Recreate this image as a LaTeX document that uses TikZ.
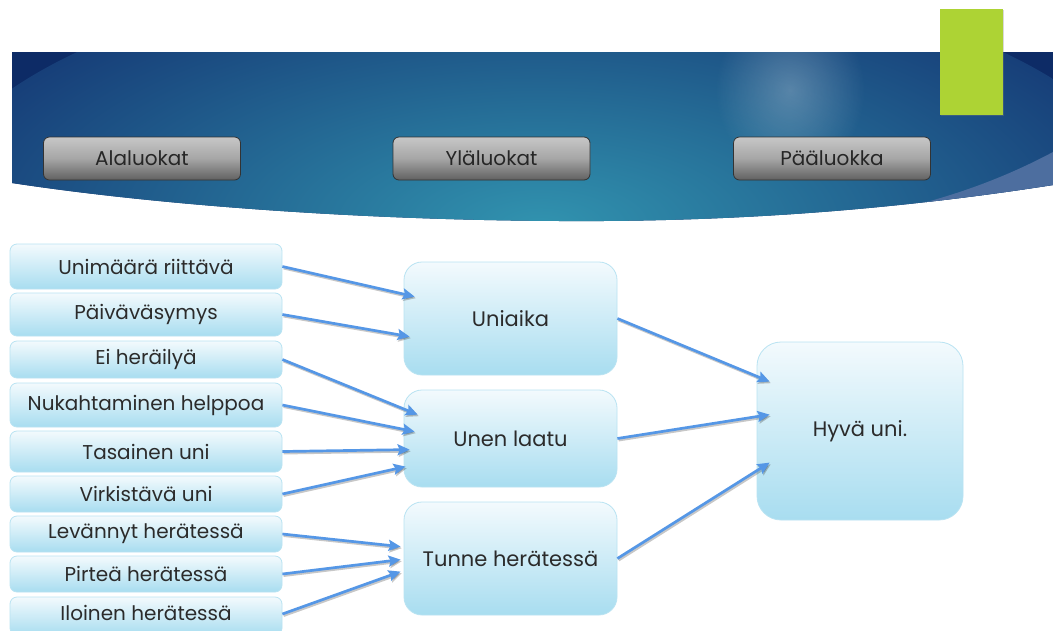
\documentclass[tikz,border=0pt]{standalone}
\usepackage{fontspec}
\setmainfont{Poppins}
\usetikzlibrary{calc,arrows.meta,fadings,shadows}
\definecolor{navyL}{HTML}{173F79}
\definecolor{navyR}{HTML}{0D2B66}
\definecolor{tealC}{HTML}{3193AF}
\definecolor{swoosh}{HTML}{4D6E9F}
\definecolor{greenbar}{HTML}{ADD334}
\definecolor{boxtop}{HTML}{F3FAFD}
\definecolor{boxbot}{HTML}{A8DDF0}
\definecolor{boxline}{HTML}{B9E3F2}
\definecolor{arrowc}{HTML}{5597E6}
\definecolor{txt}{HTML}{2B2B2B}
\tikzfading[name=softspot, inner color=transparent!75, outer color=transparent!100]
\tikzset{
  leafbox/.style={rectangle, rounded corners=7pt, draw=boxline, line width=0.8pt,
    top color=boxtop, bottom color=boxbot, minimum width=272pt, text=txt,
    font=\fontsize{20}{23}\selectfont, inner sep=0pt},
  midbox/.style={rectangle, rounded corners=18pt, draw=boxline, line width=0.8pt,
    top color=boxtop, bottom color=boxbot, minimum width=213pt, text=txt,
    font=\fontsize{21}{24}\selectfont, inner sep=0pt},
  topbox/.style={rectangle, rounded corners=24pt, draw=boxline, line width=0.8pt,
    top color=boxtop, bottom color=boxbot, minimum width=206pt, minimum height=178pt,
    text=txt, font=\fontsize{21}{24}\selectfont, inner sep=0pt},
  btn/.style={rectangle, rounded corners=6pt, draw=black!80, line width=0.8pt,
    top color=black!22, bottom color=black!62, middle color=black!35,
    minimum width=197pt, minimum height=43pt, text=black!85,
    font=\fontsize{20}{23}\selectfont, inner sep=0pt},
  conn/.style={draw=arrowc, line width=2.7pt, -{Stealth[length=12pt,width=11pt,inset=2pt]}},
  connshadow/.style={draw=black, opacity=0.22, line width=2.7pt, -{Stealth[length=12pt,width=11pt,inset=2pt]}}
}
\newcommand{\linkit}[2]{%
  \draw[connshadow] ($(#1)+(1.2,1.6)$) -- ($(#2)+(1.2,1.6)$);
  \draw[conn] (#1) -- (#2);}
\begin{document}
\begin{tikzpicture}[x=1pt,y=-1pt]
\clip (0,0) rectangle (1053,630);
\fill[white] (0,0) rectangle (1053,630);
% banner
\begin{scope}
  \clip (12,52) -- (1053,52) -- (1053,185)
     .. controls (880,212) and (720,222) .. (560,221)
     .. controls (350,220) and (150,204) .. (12,183) -- cycle;
  \fill[navyR] (0,40) rectangle (1053,230);
  \shade[inner color=tealC, outer color=navyL] (540,225) ellipse (620 and 260);
  \fill[white, path fading=softspot] (790,90) ellipse (75 and 85);
  \fill[swoosh] (870,215) .. controls (950,200) and (1010,175) .. (1053,152)
     -- (1053,240) -- (860,240) -- cycle;
\end{scope}
\fill[greenbar, drop shadow={opacity=0.3, shadow xshift=1pt, shadow yshift=-1pt}] (940,9) rectangle (1003,115);
% buttons
\node[btn] (b1) at (142,158.5) {Alaluokat};
\node[btn] (b2) at (491.5,158.5) {Yläluokat};
\node[btn] (b3) at (832,158.5) {Pääluokka};
% leaf boxes
\node[leafbox, minimum height=45pt] (l1) at (146,266.5) {Unimäärä riittävä};
\node[leafbox, minimum height=43pt] (l2) at (146,314.5) {Päiväväsymys};
\node[leafbox, minimum height=37pt] (l3) at (146,359.5) {Ei heräilyä};
\node[leafbox, minimum height=44pt] (l4) at (146,405) {Nukahtaminen helppoa};
\node[leafbox, minimum height=41pt] (l5) at (146,451.5) {Tasainen uni};
\node[leafbox, minimum height=36pt] (l6) at (146,494) {Virkistävä uni};
\node[leafbox, minimum height=36pt] (l7) at (146,534) {Levännyt herätessä};
\node[leafbox, minimum height=36pt] (l8) at (146,574) {Pirteä herätessä};
\node[leafbox, minimum height=38pt] (l9) at (146,616) {};
\node[text=txt, font=\fontsize{20}{23}\selectfont, inner sep=0pt] (t9) at (146,613) {Iloinen herätessä};
% middle boxes
\node[midbox, minimum height=113pt] (m1) at (510.5,318.5) {Uniaika};
\node[midbox, minimum height=97pt] (m2) at (510.5,438.5) {Unen laatu};
\node[midbox, minimum height=113pt] (m3) at (510.5,558.5) {Tunne herätessä};
% top box
\node[topbox] (h) at (860,431) {Hyvä uni.};
% arrow end points
\coordinate (e1) at ($(m1.north west)+(11,35)$);
\coordinate (e2) at ($(m1.north west)+(6,75)$);
\coordinate (e3) at ($(m2.north west)+(14,25)$);
\coordinate (e4) at ($(m2.north west)+(11,42)$);
\coordinate (e5) at ($(m2.north west)+(6,60)$);
\coordinate (e6) at ($(m2.north west)+(2,77)$);
\coordinate (e7) at ($(m3.north west)+(-3,45)$);
\coordinate (e8) at ($(m3.north west)+(-3,58)$);
\coordinate (e9) at ($(m3.north west)+(-3,70)$);
\coordinate (f1) at ($(h.north west)+(13,40)$);
\coordinate (f2) at ($(h.north west)+(13,73)$);
\coordinate (f3) at ($(h.north west)+(13,121)$);
\coordinate (s9) at ($(l9.east)+(0,-2)$);
\linkit{l1.east}{e1}
\linkit{l2.east}{e2}
\linkit{l3.east}{e3}
\linkit{l4.east}{e4}
\linkit{l5.east}{e5}
\linkit{l6.east}{e6}
\linkit{l7.east}{e7}
\linkit{l8.east}{e8}
\linkit{s9}{e9}
\linkit{m1.east}{f1}
\linkit{m2.east}{f2}
\linkit{m3.east}{f3}
\end{tikzpicture}
\end{document}
